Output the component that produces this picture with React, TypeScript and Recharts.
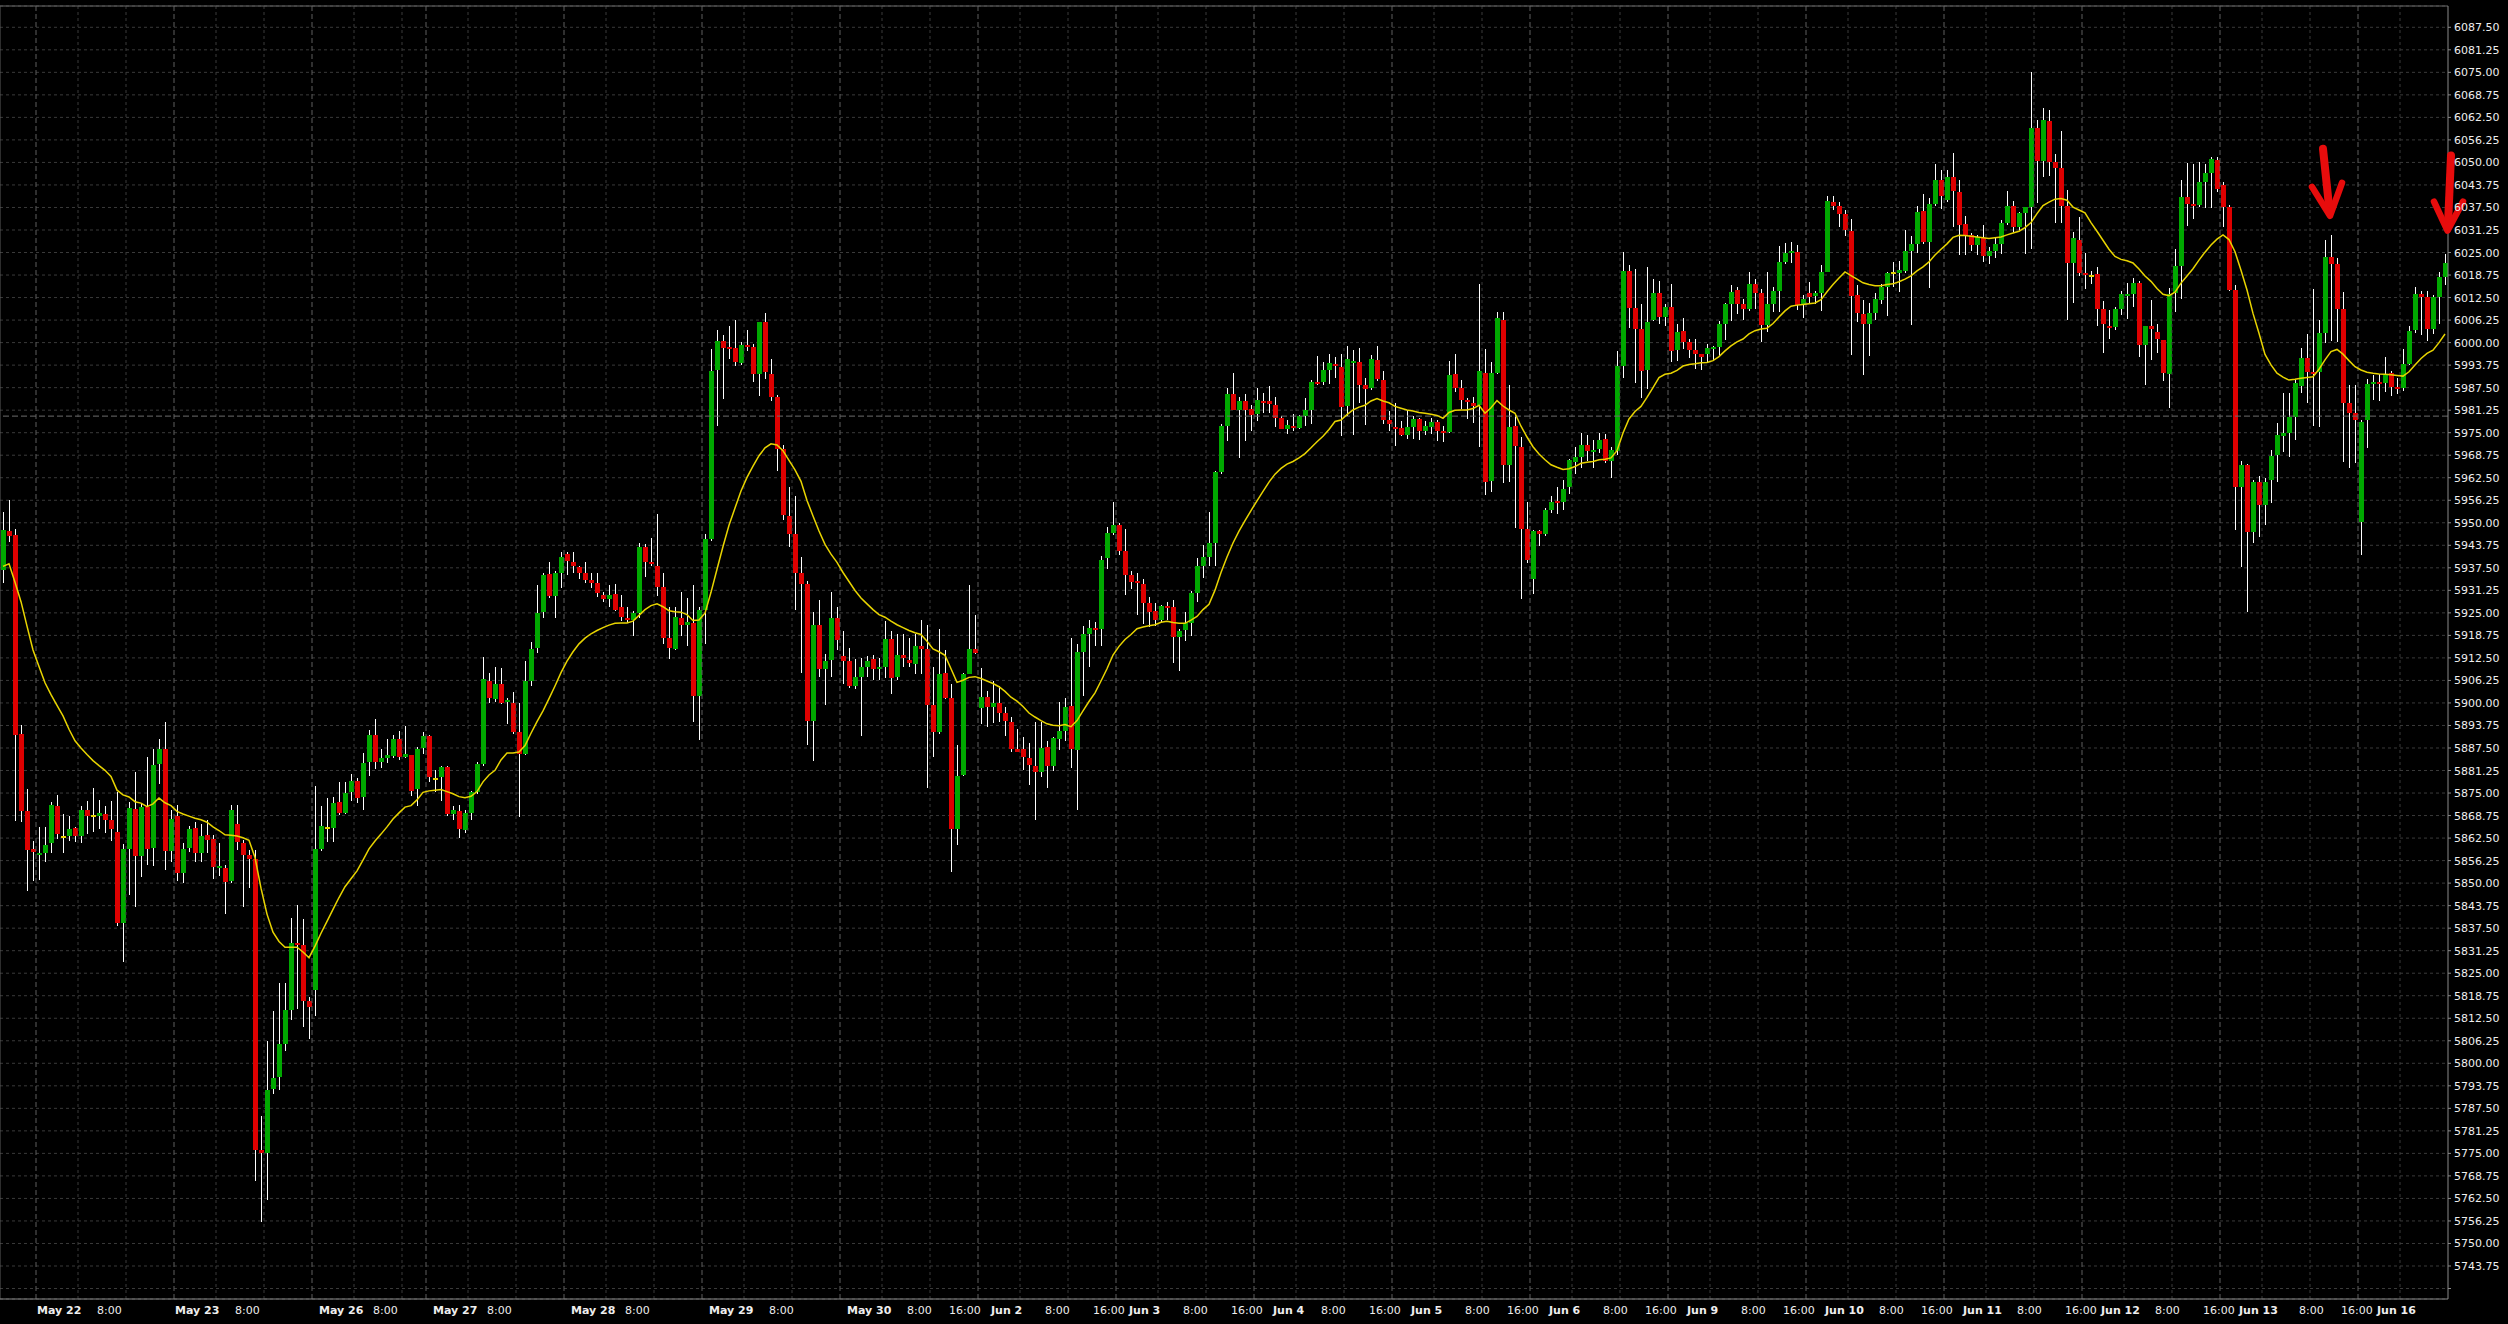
import React from 'react';
import {
  ComposedChart,
  Bar,
  Line,
  XAxis,
  YAxis,
  CartesianGrid,
  ReferenceLine,
  ReferenceDot,
} from 'recharts';

document.body.style.margin = '0';
document.body.style.background = '#000';

// one bar per hour, index 0 = first bar on the left
const OPEN = [
  5937.0, 5947.7, 5946.5, 5891.4, 5869.9, 5859.4, 5857.9, 5858.4, 5861.0, 5871.5,
  5862.8, 5863.1, 5865.2, 5863.0, 5870.2, 5868.5, 5868.6, 5869.1, 5867.6, 5864.3,
  5838.8, 5859.5, 5870.6, 5857.5, 5871.2, 5859.7, 5883.0, 5887.2, 5858.8, 5868.5,
  5852.7, 5859.7, 5865.2, 5858.4, 5863.4, 5862.3, 5854.1, 5854.2, 5850.6, 5866.5,
  5861.0, 5857.8, 5856.7, 5775.9, 5775.0, 5793.0, 5796.2, 5805.4, 5814.9, 5833.5,
  5832.9, 5817.4, 5820.4, 5859.5, 5865.4, 5865.4, 5872.4, 5869.5, 5875.4, 5878.4,
  5873.9, 5883.6, 5891.0, 5883.7, 5884.6, 5885.3, 5889.9, 5885.0, 5885.6, 5876.1,
  5887.5, 5890.9, 5879.0, 5879.4, 5882.2, 5869.1, 5870.0, 5864.7, 5869.5, 5875.4,
  5883.0, 5906.2, 5901.2, 5905.2, 5900.5, 5900.1, 5891.9, 5885.9, 5906.1, 5915.3,
  5925.2, 5935.8, 5929.6, 5936.0, 5941.3, 5939.0, 5937.6, 5936.0, 5934.1, 5933.4,
  5930.0, 5928.8, 5930.2, 5926.5, 5923.6, 5923.1, 5925.1, 5943.2, 5939.2, 5938.1,
  5932.3, 5918.0, 5915.1, 5923.6, 5921.7, 5922.2, 5902.0, 5925.9, 5945.4, 5992.3,
  6000.5, 5998.9, 5998.4, 5994.4, 5999.4, 5998.9, 5991.4, 6005.6, 5991.4, 5984.9,
  5970.5, 5951.9, 5946.8, 5936.0, 5933.0, 5895.1, 5921.7, 5909.5, 5911.8, 5923.5,
  5913.0, 5911.6, 5904.7, 5907.3, 5910.0, 5912.1, 5909.5, 5910.0, 5917.7, 5907.1,
  5913.2, 5911.9, 5910.7, 5915.8, 5915.0, 5899.4, 5891.9, 5908.4, 5901.5, 5865.1,
  5879.9, 5908.1, 5915.1, 5898.7, 5901.6, 5899.0, 5899.9, 5897.2, 5894.7, 5887.2,
  5887.2, 5884.8, 5882.4, 5880.8, 5887.7, 5882.5, 5890.0, 5892.3, 5899.2, 5887.0,
  5914.2, 5919.0, 5920.8, 5920.5, 5940.1, 5947.2, 5949.4, 5942.3, 5935.6, 5933.9,
  5933.1, 5927.8, 5925.5, 5923.0, 5926.9, 5926.7, 5918.4, 5920.2, 5922.1, 5930.5,
  5938.1, 5940.5, 5944.5, 5964.1, 5976.9, 5985.7, 5981.4, 5983.8, 5981.6, 5980.2,
  5983.8, 5983.8, 5982.8, 5979.0, 5976.1, 5976.9, 5976.4, 5979.7, 5981.2, 5989.0,
  5989.0, 5992.4, 5994.0, 5993.1, 5982.3, 5994.3, 5994.5, 5988.3, 5987.4, 5995.2,
  5989.6, 5978.5, 5976.6, 5976.2, 5974.3, 5976.6, 5978.8, 5975.6, 5976.7, 5978.0,
  5975.4, 5975.2, 5991.2, 5987.4, 5984.0, 5983.2, 5982.6, 5991.6, 5961.7, 5991.6,
  6006.4, 5966.1, 5976.8, 5971.1, 5948.3, 5934.3, 5947.7, 5946.9, 5953.5, 5956.0,
  5955.9, 5959.9, 5966.9, 5968.3, 5971.6, 5970.0, 5970.5, 5973.3, 5967.2, 5970.0,
  5993.6, 6019.9, 6009.5, 6003.8, 5992.3, 6006.2, 6013.7, 6007.1, 6010.0, 5998.0,
  6003.1, 6000.2, 5998.0, 5996.7, 5996.7, 5998.3, 5998.7, 6005.3, 6010.6, 6014.6,
  6010.6, 6009.3, 6016.3, 6013.7, 6004.9, 6010.6, 6014.4, 6022.4, 6024.9, 6025.1,
  6010.4, 6013.7, 6012.8, 6013.9, 6019.6, 6038.9, 6038.0, 6035.8, 6030.9, 6013.3,
  6007.8, 6005.3, 6008.2, 6011.9, 6015.5, 6019.2, 6019.4, 6019.9, 6025.4, 6027.3,
  6036.4, 6027.9, 6038.6, 6045.2, 6039.7, 6046.0, 6041.9, 6032.8, 6029.9, 6027.1,
  6029.1, 6024.1, 6025.4, 6027.4, 6033.3, 6038.0, 6032.0, 6036.0, 6037.6, 6059.6,
  6050.4, 6061.4, 6050.2, 6048.4, 6038.0, 6022.2, 6028.4, 6019.2, 6018.6, 6019.0,
  6009.3, 6004.6, 6004.3, 6009.3, 6013.2, 6013.5, 6016.5, 5999.4, 6004.6, 6002.9,
  6000.6, 5991.4, 6013.8, 6021.2, 6040.3, 6038.5, 6038.3, 6044.7, 6047.2, 6050.7,
  6043.7, 6037.5, 6014.6, 5960.0, 5966.0, 5947.5, 5961.4, 5954.9, 5962.0, 5968.8,
  5974.1, 5974.8, 5979.4, 5988.0, 5995.6, 5991.9, 5991.9, 6002.8, 6023.8, 6021.8,
  6009.2, 5983.1, 5980.5, 5950.3, 5978.5, 5988.4, 5989.0, 5988.7, 5991.5, 5987.6,
  5987.3, 5994.0, 6003.5, 6013.5, 6012.7, 6003.7, 6012.6, 6018.3,
];

const HIGH = [
  5953.0, 5956.4, 5948.4, 5893.8, 5876.1, 5861.7, 5865.6, 5865.6, 5872.4, 5874.4,
  5869.1, 5868.6, 5865.6, 5871.5, 5872.8, 5876.4, 5873.1, 5871.5, 5872.8, 5875.2,
  5860.8, 5872.6, 5880.7, 5872.2, 5885.0, 5887.2, 5890.1, 5894.8, 5870.2, 5871.8,
  5861.0, 5865.9, 5866.9, 5866.3, 5867.6, 5863.4, 5861.0, 5855.1, 5871.8, 5871.8,
  5862.1, 5859.1, 5859.1, 5785.3, 5806.3, 5814.5, 5822.4, 5822.4, 5840.3, 5844.0,
  5840.1, 5818.5, 5877.0, 5871.5, 5873.5, 5873.9, 5878.1, 5878.1, 5880.4, 5879.1,
  5886.2, 5892.5, 5895.5, 5887.2, 5889.9, 5891.2, 5892.2, 5893.5, 5885.6, 5887.9,
  5891.8, 5891.2, 5881.3, 5882.6, 5882.6, 5871.5, 5871.8, 5870.2, 5875.6, 5883.6,
  5912.8, 5908.4, 5910.0, 5909.7, 5901.5, 5902.9, 5900.1, 5911.6, 5916.9, 5932.6,
  5936.0, 5939.0, 5936.5, 5941.9, 5941.9, 5941.9, 5938.1, 5939.0, 5936.0, 5936.2,
  5930.7, 5932.6, 5933.0, 5930.0, 5926.5, 5925.6, 5944.3, 5944.0, 5945.8, 5952.5,
  5936.2, 5926.5, 5926.7, 5930.7, 5929.1, 5932.8, 5926.5, 5947.0, 5998.1, 6003.4,
  6002.1, 6004.5, 6006.3, 6000.3, 6003.4, 5999.7, 6005.6, 6008.2, 5995.5, 5985.4,
  5971.6, 5959.9, 5957.3, 5940.5, 5933.9, 5925.2, 5928.6, 5913.7, 5930.7, 5926.7,
  5920.1, 5915.3, 5912.1, 5912.6, 5912.9, 5913.2, 5912.4, 5922.7, 5920.1, 5919.2,
  5919.2, 5918.0, 5919.2, 5923.1, 5921.7, 5910.0, 5920.6, 5914.8, 5905.2, 5888.2,
  5908.2, 5932.8, 5924.5, 5909.7, 5903.3, 5906.1, 5904.7, 5899.0, 5896.1, 5892.7,
  5890.5, 5888.9, 5894.7, 5894.7, 5889.4, 5890.5, 5900.4, 5901.4, 5917.9, 5916.4,
  5921.4, 5922.9, 5922.4, 5940.8, 5948.9, 5955.8, 5950.0, 5948.2, 5936.7, 5936.2,
  5934.3, 5929.5, 5927.6, 5927.2, 5928.1, 5928.6, 5920.5, 5925.2, 5931.0, 5940.1,
  5943.9, 5953.0, 5964.4, 5977.3, 5987.4, 5991.7, 5985.0, 5985.7, 5982.6, 5987.4,
  5986.1, 5988.0, 5985.0, 5979.7, 5978.5, 5980.2, 5980.0, 5984.5, 5989.6, 5996.2,
  5994.5, 5996.9, 5996.0, 5996.9, 5999.1, 5997.9, 5998.5, 5990.2, 5996.6, 5999.1,
  5992.1, 5981.0, 5983.1, 5978.3, 5981.2, 5979.7, 5979.2, 5978.3, 5979.2, 5978.5,
  5976.9, 5995.0, 5996.9, 5989.6, 5984.5, 5985.0, 6016.3, 5998.2, 5994.7, 6008.6,
  6008.4, 5988.1, 5979.9, 5973.8, 5955.7, 5948.0, 5948.0, 5954.1, 5957.4, 5959.9,
  5961.8, 5967.8, 5971.1, 5974.9, 5974.4, 5973.1, 5974.9, 5974.7, 5971.1, 5997.6,
  6025.2, 6021.6, 6020.5, 6010.6, 6021.0, 6017.7, 6017.2, 6010.6, 6016.3, 6005.3,
  6006.7, 6000.9, 6000.9, 5996.9, 5999.6, 5999.1, 6006.0, 6011.1, 6015.9, 6015.5,
  6012.2, 6019.6, 6017.7, 6015.0, 6019.6, 6015.5, 6026.8, 6027.6, 6027.9, 6027.0,
  6013.3, 6016.9, 6014.4, 6021.6, 6040.8, 6040.8, 6039.1, 6036.9, 6034.2, 6015.9,
  6011.9, 6011.1, 6013.9, 6016.3, 6019.6, 6022.4, 6022.7, 6031.2, 6029.5, 6037.8,
  6041.3, 6040.2, 6049.5, 6047.9, 6047.9, 6052.5, 6045.0, 6035.0, 6030.4, 6029.9,
  6032.6, 6026.4, 6029.4, 6034.0, 6042.0, 6039.3, 6036.3, 6037.6, 6075.0, 6061.8,
  6065.0, 6064.6, 6052.2, 6058.8, 6042.3, 6030.6, 6034.8, 6025.0, 6019.9, 6020.9,
  6011.5, 6009.0, 6010.0, 6014.2, 6016.5, 6017.8, 6017.0, 6004.6, 6011.8, 6005.3,
  6000.6, 6015.2, 6025.9, 6045.2, 6049.9, 6049.7, 6050.2, 6049.7, 6051.5, 6051.5,
  6044.7, 6038.3, 6016.0, 5967.2, 5966.4, 5962.0, 5962.9, 5962.3, 5970.2, 5977.6,
  5985.9, 5985.9, 5989.6, 5998.4, 6002.4, 6015.0, 6006.3, 6028.5, 6029.9, 6023.4,
  6014.1, 5988.2, 5988.2, 5978.5, 5989.8, 5991.0, 5991.2, 5995.9, 5992.2, 5990.1,
  5998.1, 6004.6, 6015.3, 6014.4, 6014.4, 6013.2, 6019.7, 6024.6,
];

const LOW = [
  5933.3, 5944.6, 5867.2, 5866.9, 5847.7, 5850.6, 5850.8, 5856.0, 5858.4, 5862.3,
  5858.4, 5861.7, 5861.3, 5861.0, 5863.6, 5864.3, 5865.0, 5863.9, 5861.7, 5838.1,
  5828.0, 5846.6, 5843.3, 5851.6, 5855.1, 5854.8, 5877.4, 5853.7, 5856.0, 5850.6,
  5849.9, 5858.7, 5856.0, 5856.0, 5858.4, 5851.2, 5852.1, 5841.4, 5850.0, 5859.1,
  5843.3, 5848.6, 5767.4, 5756.0, 5762.2, 5791.6, 5792.7, 5803.4, 5811.9, 5815.0,
  5810.0, 5806.7, 5813.2, 5859.0, 5861.3, 5861.4, 5868.9, 5869.1, 5872.8, 5872.2,
  5870.2, 5879.6, 5881.7, 5882.0, 5883.3, 5884.6, 5884.3, 5884.6, 5874.1, 5871.5,
  5885.9, 5878.1, 5875.2, 5872.8, 5868.6, 5867.6, 5862.6, 5863.9, 5867.6, 5874.8,
  5882.6, 5900.0, 5900.4, 5899.7, 5894.1, 5891.4, 5868.3, 5885.6, 5904.7, 5913.9,
  5923.5, 5929.1, 5923.5, 5932.0, 5935.5, 5936.0, 5934.4, 5933.4, 5932.0, 5929.3,
  5928.0, 5926.7, 5925.4, 5922.7, 5922.2, 5918.5, 5923.5, 5934.9, 5938.1, 5929.6,
  5916.4, 5912.1, 5914.8, 5918.5, 5915.8, 5894.6, 5889.8, 5916.4, 5945.0, 5976.9,
  5984.3, 5995.5, 5993.4, 5993.9, 5997.6, 5989.1, 5985.1, 5990.0, 5983.8, 5964.5,
  5950.9, 5943.4, 5925.9, 5908.4, 5888.2, 5883.8, 5907.3, 5899.4, 5907.1, 5914.8,
  5905.2, 5904.2, 5903.9, 5890.9, 5907.3, 5906.3, 5906.3, 5906.8, 5902.6, 5906.5,
  5910.0, 5910.0, 5907.9, 5908.0, 5876.5, 5885.0, 5891.4, 5901.0, 5853.2, 5860.6,
  5879.7, 5908.0, 5913.7, 5894.2, 5893.2, 5894.4, 5894.7, 5890.8, 5886.3, 5886.3,
  5881.5, 5877.3, 5867.4, 5879.4, 5876.5, 5881.0, 5887.0, 5889.4, 5881.9, 5870.3,
  5901.8, 5910.0, 5915.7, 5915.7, 5937.2, 5946.6, 5941.0, 5930.0, 5931.5, 5924.3,
  5921.9, 5921.0, 5921.4, 5922.4, 5923.0, 5911.1, 5909.0, 5917.3, 5918.7, 5928.1,
  5934.8, 5938.1, 5938.1, 5963.5, 5972.8, 5981.2, 5968.0, 5972.6, 5975.6, 5978.3,
  5980.4, 5980.4, 5976.6, 5975.9, 5974.7, 5975.4, 5975.9, 5976.9, 5977.5, 5988.3,
  5988.3, 5988.6, 5990.2, 5974.0, 5979.7, 5974.3, 5983.1, 5977.0, 5986.9, 5989.3,
  5977.3, 5975.4, 5971.4, 5974.0, 5973.3, 5973.3, 5973.0, 5974.3, 5974.5, 5972.6,
  5972.3, 5974.9, 5986.4, 5981.6, 5978.8, 5977.7, 5971.1, 5957.7, 5958.5, 5991.4,
  5961.0, 5961.2, 5948.6, 5928.8, 5938.7, 5930.3, 5943.6, 5946.4, 5952.6, 5952.4,
  5953.5, 5957.9, 5963.4, 5965.1, 5967.2, 5965.1, 5969.4, 5966.5, 5962.3, 5968.9,
  5990.3, 6004.0, 5988.9, 5984.5, 5987.0, 6006.0, 6005.3, 6004.5, 5994.7, 5995.0,
  5998.3, 5995.8, 5992.8, 5992.5, 5994.7, 5995.2, 5996.3, 6000.7, 6006.0, 6007.8,
  6006.2, 6008.9, 6009.3, 6000.2, 6003.0, 6008.6, 6008.6, 6021.8, 6022.1, 6009.0,
  6006.7, 6011.1, 6010.6, 6008.9, 6019.5, 6036.9, 6032.0, 6029.5, 5996.5, 6005.7,
  5991.1, 5996.3, 6006.2, 6010.8, 6007.5, 6015.5, 6014.1, 6019.4, 6004.9, 6024.9,
  6027.3, 6015.2, 6038.0, 6037.1, 6039.1, 6032.0, 6024.4, 6024.4, 6025.4, 6024.4,
  6022.4, 6021.9, 6023.4, 6024.7, 6032.6, 6030.6, 6031.3, 6024.7, 6026.1, 6038.8,
  6045.9, 6046.2, 6033.3, 6033.3, 6006.3, 6011.0, 6018.5, 6015.0, 6016.2, 6004.6,
  5997.0, 6001.1, 6003.6, 6007.6, 6006.6, 6010.0, 5995.9, 5988.2, 5995.2, 5997.2,
  5989.4, 5981.8, 6008.6, 6012.0, 6032.3, 6034.3, 6037.6, 6037.3, 6037.3, 6041.8,
  6032.2, 6014.2, 5948.0, 5937.8, 5925.3, 5944.3, 5946.1, 5949.4, 5955.4, 5961.4,
  5969.6, 5968.2, 5973.0, 5986.1, 5983.1, 5976.8, 5976.7, 6000.0, 6000.5, 6000.3,
  5967.0, 5965.1, 5966.5, 5941.0, 5970.7, 5984.1, 5983.8, 5986.4, 5985.2, 5985.7,
  5986.7, 5993.8, 6002.6, 6002.1, 6000.5, 6002.4, 6005.2, 6016.0,
];

const CLOSE = [
  5948.1, 5946.2, 5891.0, 5869.9, 5859.3, 5858.7, 5858.4, 5860.6, 5871.8, 5863.6,
  5862.8, 5864.9, 5863.0, 5870.2, 5868.6, 5868.5, 5869.4, 5867.6, 5864.9, 5838.8,
  5859.5, 5870.9, 5857.5, 5871.2, 5859.5, 5882.9, 5887.2, 5858.8, 5867.9, 5852.8,
  5859.5, 5865.0, 5858.4, 5863.0, 5862.1, 5854.5, 5854.7, 5850.3, 5870.2, 5861.3,
  5857.8, 5856.7, 5775.9, 5775.0, 5792.5, 5796.0, 5805.4, 5814.9, 5833.5, 5832.9,
  5817.4, 5815.5, 5859.5, 5865.9, 5865.4, 5872.2, 5869.5, 5875.0, 5878.4, 5873.5,
  5883.3, 5891.2, 5883.6, 5884.6, 5885.6, 5889.9, 5884.9, 5885.9, 5875.7, 5887.2,
  5890.9, 5879.4, 5879.0, 5882.2, 5869.1, 5870.2, 5864.9, 5869.5, 5875.4, 5883.0,
  5906.6, 5901.4, 5905.2, 5900.1, 5900.8, 5891.9, 5885.9, 5906.1, 5915.0, 5924.9,
  5935.5, 5929.6, 5936.0, 5940.5, 5939.5, 5937.9, 5936.0, 5934.2, 5933.4, 5930.4,
  5928.8, 5930.0, 5925.9, 5923.8, 5922.9, 5925.1, 5943.2, 5939.2, 5938.7, 5932.3,
  5918.0, 5915.3, 5923.8, 5921.5, 5922.4, 5901.8, 5925.9, 5945.4, 5992.0, 6000.5,
  5998.5, 5998.4, 5994.6, 5999.4, 5998.9, 5991.4, 6005.6, 5991.8, 5984.9, 5970.5,
  5952.2, 5946.8, 5936.0, 5933.0, 5895.1, 5921.7, 5909.5, 5911.6, 5923.5, 5917.4,
  5911.6, 5904.7, 5907.3, 5910.0, 5911.6, 5909.5, 5910.0, 5917.7, 5906.8, 5913.2,
  5912.4, 5911.0, 5915.8, 5915.0, 5899.4, 5891.9, 5907.9, 5901.5, 5865.1, 5879.7,
  5907.9, 5915.1, 5913.9, 5901.6, 5899.0, 5899.9, 5897.2, 5894.9, 5887.2, 5886.5,
  5885.1, 5882.7, 5880.8, 5887.5, 5882.5, 5890.2, 5892.1, 5898.8, 5887.2, 5914.2,
  5919.0, 5920.9, 5920.3, 5939.8, 5947.2, 5949.4, 5942.3, 5935.6, 5933.7, 5933.4,
  5927.8, 5925.3, 5923.0, 5926.9, 5926.5, 5918.4, 5920.0, 5922.1, 5930.5, 5938.1,
  5940.5, 5944.5, 5964.1, 5976.9, 5985.7, 5981.4, 5983.8, 5981.4, 5980.0, 5984.0,
  5983.4, 5982.9, 5979.0, 5976.1, 5977.1, 5976.4, 5979.5, 5981.2, 5989.0, 5988.6,
  5992.3, 5994.3, 5993.4, 5982.1, 5995.5, 5994.8, 5988.3, 5987.1, 5995.5, 5989.8,
  5978.5, 5977.3, 5976.1, 5974.3, 5976.6, 5978.8, 5975.4, 5976.9, 5978.0, 5975.4,
  5974.9, 5990.9, 5987.4, 5984.0, 5983.5, 5982.3, 5992.2, 5961.4, 5991.6, 6006.7,
  5966.1, 5976.6, 5971.3, 5948.3, 5939.8, 5947.7, 5946.9, 5953.5, 5955.7, 5955.5,
  5959.5, 5967.3, 5968.3, 5971.6, 5970.0, 5970.3, 5972.9, 5967.2, 5970.2, 5993.6,
  6019.9, 6009.5, 6003.8, 5992.2, 6005.6, 6013.7, 6007.1, 6010.0, 5997.7, 6002.9,
  6000.2, 5998.0, 5996.7, 5996.0, 5998.5, 5998.7, 6005.3, 6010.8, 6014.1, 6010.6,
  6009.3, 6016.3, 6013.9, 6004.9, 6010.6, 6014.4, 6022.3, 6024.9, 6025.3, 6010.4,
  6012.2, 6012.6, 6013.9, 6019.6, 6039.3, 6038.0, 6035.8, 6031.2, 6013.0, 6008.2,
  6005.3, 6008.2, 6012.0, 6015.5, 6019.4, 6019.2, 6020.1, 6025.4, 6027.3, 6036.2,
  6027.9, 6038.6, 6045.2, 6040.8, 6046.0, 6042.2, 6032.5, 6029.9, 6027.1, 6029.4,
  6024.1, 6025.4, 6027.4, 6033.3, 6038.0, 6032.0, 6036.0, 6037.6, 6059.6, 6050.4,
  6061.8, 6050.2, 6048.4, 6038.0, 6022.2, 6028.9, 6019.2, 6018.8, 6018.6, 6009.3,
  6005.1, 6004.3, 6009.3, 6013.5, 6013.5, 6016.5, 5999.4, 6004.6, 6003.9, 6001.1,
  5991.7, 6013.5, 6021.2, 6040.3, 6038.5, 6038.0, 6044.7, 6047.2, 6050.9, 6042.6,
  6037.5, 6014.6, 5960.0, 5966.0, 5947.5, 5961.4, 5954.9, 5961.4, 5968.5, 5974.3,
  5974.8, 5979.3, 5988.7, 5995.6, 5991.9, 5991.5, 6002.6, 6023.8, 6021.8, 6009.2,
  5983.3, 5980.5, 5978.5, 5978.0, 5988.4, 5989.0, 5988.5, 5991.3, 5987.8, 5987.0,
  5994.0, 6003.3, 6013.5, 6012.7, 6003.7, 6012.6, 6018.3, 6022.2,
];

// yellow moving average
const MA = [
  5937.9, 5938.6, 5933.5, 5928.1, 5921.3, 5914.7, 5910.1, 5905.6, 5902.3, 5899.3,
  5896.4, 5892.7, 5889.5, 5887.5, 5885.7, 5884.0, 5882.6, 5881.3, 5879.6, 5875.8,
  5874.5, 5873.9, 5872.6, 5872.2, 5871.2, 5872.0, 5873.6, 5872.3, 5871.5, 5869.9,
  5869.2, 5868.6, 5868.0, 5867.6, 5866.9, 5865.6, 5864.6, 5863.4, 5863.3, 5863.1,
  5862.6, 5861.9, 5857.1, 5848.6, 5841.4, 5836.4, 5833.8, 5832.2, 5832.2, 5832.2,
  5830.9, 5829.3, 5832.5, 5836.1, 5839.4, 5842.7, 5846.0, 5849.0, 5851.2, 5853.4,
  5856.4, 5859.5, 5861.7, 5863.6, 5865.6, 5867.8, 5869.5, 5871.1, 5871.5, 5873.1,
  5875.2, 5875.6, 5875.8, 5876.0, 5875.4, 5874.8, 5874.0, 5873.7, 5874.1, 5875.4,
  5878.1, 5880.0, 5881.3, 5884.2, 5886.1, 5886.1, 5886.4, 5888.2, 5891.6, 5894.8,
  5897.8, 5901.2, 5904.7, 5908.4, 5911.6, 5914.2, 5916.4, 5918.0, 5919.2, 5920.1,
  5920.9, 5921.6, 5922.1, 5922.2, 5922.2, 5922.7, 5924.3, 5925.9, 5927.0, 5927.5,
  5926.7, 5925.6, 5925.3, 5925.2, 5924.5, 5922.9, 5923.0, 5924.9, 5930.7, 5937.1,
  5943.4, 5949.3, 5954.1, 5958.8, 5962.6, 5965.7, 5968.6, 5970.8, 5971.9, 5971.6,
  5970.0, 5967.3, 5964.7, 5961.5, 5956.2, 5951.9, 5947.7, 5944.0, 5941.3, 5939.0,
  5936.2, 5933.7, 5931.2, 5929.1, 5927.5, 5925.9, 5924.5, 5923.8, 5922.7, 5921.7,
  5920.9, 5920.1, 5919.5, 5919.0, 5917.1, 5915.0, 5914.2, 5913.2, 5909.5, 5905.7,
  5906.3, 5907.1, 5907.3, 5906.8, 5906.1, 5905.4, 5904.5, 5903.2, 5901.6, 5900.5,
  5899.0, 5897.2, 5896.1, 5895.1, 5894.2, 5893.8, 5893.7, 5894.0, 5893.4, 5895.1,
  5897.8, 5900.4, 5902.8, 5906.1, 5909.5, 5913.3, 5915.7, 5917.6, 5919.0, 5920.6,
  5921.1, 5921.4, 5921.7, 5922.4, 5922.7, 5922.3, 5922.1, 5922.1, 5923.0, 5924.0,
  5925.9, 5927.4, 5931.3, 5936.2, 5940.5, 5944.4, 5947.7, 5950.6, 5953.4, 5956.1,
  5958.7, 5961.3, 5963.5, 5965.1, 5966.3, 5967.0, 5968.0, 5969.2, 5970.8, 5972.5,
  5974.0, 5975.9, 5978.1, 5978.5, 5980.0, 5981.3, 5982.1, 5982.6, 5983.8, 5984.5,
  5983.8, 5983.3, 5982.3, 5981.8, 5981.3, 5981.0, 5980.6, 5980.4, 5980.1, 5979.8,
  5979.0, 5980.6, 5981.2, 5981.3, 5981.3, 5981.7, 5982.6, 5980.4, 5981.9, 5983.9,
  5982.4, 5981.3, 5980.4, 5976.8, 5973.8, 5971.1, 5969.1, 5967.5, 5966.1, 5965.4,
  5964.8, 5965.0, 5965.6, 5966.5, 5966.8, 5967.0, 5967.5, 5967.6, 5968.0, 5970.0,
  5974.9, 5978.8, 5980.9, 5982.3, 5984.8, 5987.5, 5990.3, 5991.2, 5991.5, 5992.3,
  5993.5, 5993.9, 5994.1, 5994.4, 5994.5, 5995.0, 5996.1, 5997.7, 5999.1, 6000.2,
  6001.0, 6002.4, 6003.3, 6003.8, 6004.0, 6005.3, 6007.1, 6008.8, 6010.1, 6010.4,
  6010.6, 6010.8, 6011.0, 6011.9, 6014.1, 6016.1, 6017.9, 6019.6, 6018.6, 6017.6,
  6016.6, 6016.1, 6015.8, 6015.8, 6016.1, 6016.3, 6016.9, 6017.6, 6018.5, 6019.9,
  6021.0, 6022.4, 6024.3, 6025.9, 6027.4, 6029.2, 6029.8, 6029.7, 6029.5, 6029.3,
  6029.1, 6028.9, 6029.1, 6029.3, 6029.9, 6030.4, 6030.9, 6031.9, 6033.3, 6035.8,
  6038.0, 6039.0, 6039.8, 6040.0, 6039.5, 6037.6, 6036.8, 6036.0, 6033.3, 6030.9,
  6028.4, 6025.9, 6023.9, 6023.1, 6022.7, 6022.1, 6020.4, 6018.5, 6017.0, 6015.0,
  6013.4, 6013.0, 6014.0, 6016.5, 6018.5, 6020.5, 6022.9, 6025.1, 6027.1, 6028.7,
  6029.9, 6028.6, 6025.2, 6020.1, 6014.6, 6008.1, 6002.6, 5996.7, 5993.8, 5991.5,
  5990.4, 5989.6, 5989.8, 5990.1, 5990.3, 5990.5, 5992.6, 5995.2, 5997.5, 5998.1,
  5996.8, 5995.0, 5993.3, 5992.4, 5991.8, 5991.5, 5991.3, 5991.2, 5991.1, 5990.9,
  5990.7, 5991.9, 5993.8, 5995.6, 5997.0, 5997.9, 6000.0, 6002.4,
];

const PRICE_TICKS = [
  5737.5, 5743.75, 5750, 5756.25, 5762.5, 5768.75, 5775, 5781.25, 5787.5, 5793.75,
  5800, 5806.25, 5812.5, 5818.75, 5825, 5831.25, 5837.5, 5843.75, 5850, 5856.25,
  5862.5, 5868.75, 5875, 5881.25, 5887.5, 5893.75, 5900, 5906.25, 5912.5, 5918.75,
  5925, 5931.25, 5937.5, 5943.75, 5950, 5956.25, 5962.5, 5968.75, 5975, 5981.25,
  5987.5, 5993.75, 6000, 6006.25, 6012.5, 6018.75, 6025, 6031.25, 6037.5, 6043.75,
  6050, 6056.25, 6062.5, 6068.75, 6075, 6081.25, 6087.5,
];
const UNLABELLED_TICK = 5737.5;

const Y_MIN = 5734.59;
const Y_MAX = 6093.41;

// bar indices where the time labels sit
const TIME_TICKS = [
  6, 16, 29, 39, 53, 62, 72, 81, 95, 104, 118, 128,
  141, 151, 158, 165, 174, 182, 188, 197, 205, 212, 220, 228,
  235, 244, 251, 258, 267, 274, 281, 290, 297, 304, 313, 320,
  327, 336, 344, 350, 359, 367, 373, 383, 390, 396,
];
const TIME_LABELS = [
  'May 22', '8:00', 'May 23', '8:00', 'May 26', '8:00', 'May 27', '8:00', 'May 28', '8:00', 'May 29', '8:00',
  'May 30', '8:00', '16:00', 'Jun 2', '8:00', '16:00', 'Jun 3', '8:00', '16:00', 'Jun 4', '8:00', '16:00',
  'Jun 5', '8:00', '16:00', 'Jun 6', '8:00', '16:00', 'Jun 9', '8:00', '16:00', 'Jun 10', '8:00', '16:00',
  'Jun 11', '8:00', '16:00', 'Jun 12', '8:00', '16:00', 'Jun 13', '8:00', '16:00', 'Jun 16',
];

// first bar of each session (period separators) and the lighter grid in between
const DAY_STARTS = [6, 29, 52, 71, 94, 117, 140, 163, 186, 209, 232, 255, 278, 301, 324, 347, 370, 393];
const GRID_BARS = [
  13, 21, 36, 44, 59, 67, 78, 86, 101, 109, 124, 132, 147, 155, 170, 178, 193, 201,
  216, 224, 239, 247, 262, 270, 285, 293, 308, 316, 331, 339, 354, 362, 377, 385, 400,
];

const LEVEL_LINE = 5979.6;

// the two hand-drawn arrows: tip bar and price
const ARROW_A = { i: 388, price: 6034.9 };
const ARROW_B = { i: 407, price: 6030.8 };

const UP = '#00a800';
const DOWN = '#de0000';
const DOJI = '#e8d400';
const WICK = '#ffffff';
const GRID = '#3a3a3a';
const SEPARATOR = '#5e5e5e';
const AXIS = '#8a8a8a';
const TEXT = '#eeeeee';
const ARROW_RED = '#e80c0c';
const FONT = 'DejaVu Sans';

const data = OPEN.map((o, i) => ({ i, o, h: HIGH[i], l: LOW[i], c: CLOSE[i], ma: MA[i] }));

const labelAt = new Map(TIME_TICKS.map((t, k) => [t, TIME_LABELS[k]]));

function Candle(props: any) {
  const { x, y, width, height, payload } = props;
  if (x == null || payload == null) return null;
  const { o, h, l, c } = payload;
  const top = Math.min(y, y + height);
  const bottom = Math.max(y, y + height);
  const span = h - l;
  const toY = (v: number) => (span > 0 ? top + ((h - v) / span) * (bottom - top) : top);
  const left = Math.round(x + width / 2 - 3);
  const yo = toY(o);
  const yc = toY(c);
  const wickTop = Math.round(top);
  const wickBottom = Math.round(bottom);
  let bodyTop = Math.round(Math.min(yo, yc));
  let bodyH = Math.round(Math.max(yo, yc)) - bodyTop;
  const fill = o === c ? DOJI : c > o ? UP : DOWN;
  if (o === c) {
    bodyTop = Math.round(yo) - 1;
    bodyH = 2;
  } else if (bodyH < 2) {
    bodyH = 2;
  }
  return (
    <g shapeRendering="crispEdges">
      <rect x={left + 3} y={wickTop} width={1} height={Math.max(1, wickBottom - wickTop)} fill={WICK} />
      <rect x={left + 1} y={bodyTop} width={5} height={bodyH} fill={fill} />
    </g>
  );
}

function TimeTick(props: any) {
  const { x, y, payload } = props;
  const label = labelAt.get(payload.value);
  if (!label) return null;
  const isDate = !label.includes(':');
  return (
    <text
      x={x - 2}
      y={y + 15}
      fill={TEXT}
      fontSize={11}
      fontFamily={FONT}
      fontWeight={isDate ? 'bold' : 'normal'}
      textAnchor="start"
    >
      {label}
    </text>
  );
}

function PriceTick(props: any) {
  const { x, y, payload } = props;
  if (payload.value === UNLABELLED_TICK) return null;
  return (
    <text x={x} y={y + 4} fill={TEXT} fontSize={11} fontFamily={FONT} textAnchor="start">
      {Number(payload.value).toFixed(2)}
    </text>
  );
}

function ArrowA(props: any) {
  const { cx, cy } = props;
  return (
    <g transform={`translate(${cx}, ${cy})`} stroke={ARROW_RED} fill="none" strokeLinecap="round" strokeLinejoin="round">
      <path d="M -8 -68 L -1.5 -6" strokeWidth={8} />
      <path d="M -19 -30 L -1 -1 L 11 -34" strokeWidth={6.5} />
    </g>
  );
}

function ArrowB(props: any) {
  const { cx, cy } = props;
  return (
    <g transform={`translate(${cx}, ${cy})`} stroke={ARROW_RED} fill="none" strokeLinecap="round" strokeLinejoin="round">
      <path d="M 6 -76 L 3 -7" strokeWidth={8} />
      <path d="M -11 -30 L 2.5 -1 L 18 -30" strokeWidth={6.5} />
    </g>
  );
}

export default function App() {
  return (
    <div style={{ width: 2508, height: 1324, background: '#000' }}>
      <ComposedChart
        width={2508}
        height={1324}
        data={data}
        margin={{ top: 6, right: 0, bottom: 0, left: 0 }}
      >
        <CartesianGrid vertical={false} stroke={GRID} strokeDasharray="3 3" />
        {GRID_BARS.map((b) => (
          <ReferenceLine key={`g${b}`} x={b} position="start" stroke={GRID} strokeDasharray="3 3" />
        ))}
        {DAY_STARTS.map((b) => (
          <ReferenceLine key={`d${b}`} x={b} position="start" stroke={SEPARATOR} strokeDasharray="5 3" />
        ))}
        <ReferenceLine y={LEVEL_LINE} stroke="#6c6c6c" strokeDasharray="6 3" />
        <ReferenceLine y={Y_MAX} stroke="#6a6a6a" />
        <ReferenceLine x={0} position="start" stroke="#5a5a5a" />
        <XAxis
          dataKey="i"
          type="category"
          interval={0}
          tick={<TimeTick />}
          tickLine={false}
          tickSize={0}
          tickMargin={0}
          height={25}
          axisLine={{ stroke: AXIS }}
        />
        <YAxis
          orientation="right"
          type="number"
          domain={[Y_MIN, Y_MAX]}
          allowDataOverflow
          ticks={PRICE_TICKS}
          interval={0}
          width={60}
          tick={<PriceTick />}
          tickSize={3}
          tickMargin={3}
          tickLine={{ stroke: AXIS }}
          axisLine={{ stroke: AXIS }}
        />
        <Bar dataKey={(d: any) => [d.l, d.h]} shape={Candle} isAnimationActive={false} />
        <Line
          type="linear"
          dataKey="ma"
          stroke={DOJI}
          strokeWidth={1.5}
          dot={false}
          activeDot={false}
          isAnimationActive={false}
        />
        <ReferenceDot x={ARROW_A.i} y={ARROW_A.price} r={0} shape={ArrowA} ifOverflow="visible" />
        <ReferenceDot x={ARROW_B.i} y={ARROW_B.price} r={0} shape={ArrowB} ifOverflow="visible" />
      </ComposedChart>
    </div>
  );
}
